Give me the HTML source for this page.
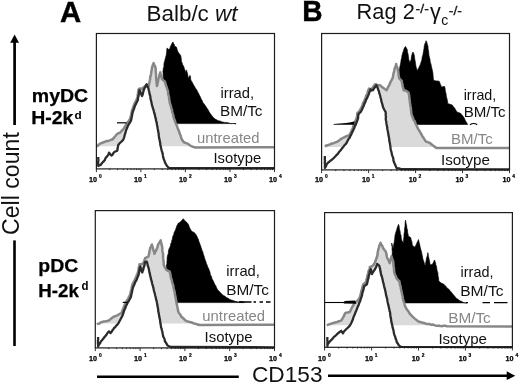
<!DOCTYPE html>
<html><head><meta charset="utf-8"><title>CD153 histograms</title>
<style>
html,body{margin:0;padding:0;background:#fff;}
body{width:520px;height:384px;overflow:hidden;}
svg{display:block;}
text{font-family:"Liberation Sans",Arial,Helvetica,sans-serif;fill:#111;}
.hd{font-weight:bold;font-size:29.2px;fill:#000;stroke:#000;stroke-width:0.4px;}
.ti{font-size:21.3px;}
.sup{font-size:13.3px;stroke:#111;stroke-width:0.3px;}
.sub{font-size:15px;}
.rl{font-weight:bold;font-size:17.6px;fill:#000;stroke:#000;stroke-width:0.25px;}
.rls{font-weight:bold;font-size:10.5px;fill:#000;}
.lb{font-size:14.8px;}
.lbg{font-size:14.8px;fill:#878787;}
.ax{font-size:22.6px;}
.tk{font-weight:bold;font-size:6.6px;fill:#000;stroke:#000;stroke-width:0.25px;}
.tke{font-weight:bold;font-size:4.9px;fill:#000;stroke:#000;stroke-width:0.2px;}
</style></head><body>
<svg width="520" height="384" viewBox="0 0 520 384">
<rect width="520" height="384" fill="#fff"/>
<rect x="96.4" y="33.5" width="178.1" height="135.4" fill="#fff"/>
<path d="M161.5,123.6 L161.5,123.3 L161.6,121.7 L161.6,120.6 L161.7,118.6 L161.7,116.7 L161.9,115.6 L161.8,113.5 L162.0,111.9 L161.8,110.9 L162.2,109.6 L162.1,107.7 L161.9,105.7 L162.0,104.5 L162.1,102.6 L162.3,100.8 L162.5,99.7 L162.4,98.2 L162.5,96.6 L162.5,95.0 L162.6,93.3 L163.0,92.2 L163.0,90.4 L163.0,88.2 L163.1,86.5 L163.4,85.4 L163.5,83.8 L163.7,81.8 L163.7,80.6 L163.3,77.9 L163.3,77.1 L163.1,75.5 L163.1,72.9 L162.9,71.6 L163.1,70.2 L163.4,67.8 L163.9,67.0 L163.9,64.4 L164.1,62.7 L164.6,61.4 L164.9,60.0 L165.4,58.1 L166.0,56.0 L166.3,54.6 L166.6,52.6 L166.7,50.9 L166.8,49.3 L167.1,47.9 L168.8,49.6 L169.8,48.4 L170.5,46.2 L171.5,44.6 L172.1,43.0 L173.0,41.9 L173.6,43.7 L174.3,44.4 L174.7,46.2 L176.4,47.0 L176.9,48.4 L177.5,50.7 L178.1,52.1 L179.2,53.6 L180.7,55.5 L181.0,57.1 L181.3,59.2 L181.5,61.4 L182.1,62.7 L182.7,64.8 L183.5,65.9 L184.0,67.3 L184.4,68.7 L185.3,71.1 L185.7,72.4 L186.6,69.9 L186.8,71.3 L187.5,73.5 L187.8,74.7 L188.0,77.1 L188.3,78.4 L189.0,76.8 L190.0,75.4 L190.5,76.5 L190.6,78.2 L190.8,80.0 L191.5,81.2 L192.4,82.4 L193.0,84.0 L194.6,86.5 L195.3,87.9 L196.2,89.2 L197.0,90.2 L197.7,91.9 L198.4,93.0 L199.3,95.0 L200.2,96.6 L200.8,98.1 L201.5,99.6 L202.3,100.8 L202.9,102.6 L203.8,103.5 L205.4,105.8 L206.9,108.1 L207.8,109.2 L208.8,111.2 L209.6,112.6 L210.8,114.2 L212.3,116.2 L213.8,118.1 L216.0,119.6 L218.5,120.8 L219.9,120.9 L221.5,121.7 L222.9,122.1 L224.6,122.4 L227.0,122.6 L229.0,123.0 L230.7,123.6 L232.2,123.5 L233.8,123.5 L236.0,123.9 L236.0,123.6Z" fill="#000" stroke="#000" stroke-width="0.6" stroke-linejoin="round"/>
<path d="M97.0,146.2 L97.0,146.8 L98.8,144.5 L100.2,143.7 L101.5,143.0 L103.0,142.5 L104.7,141.8 L106.6,141.0 L108.5,141.0 L110.5,140.0 L112.3,139.5 L113.4,138.4 L114.5,137.0 L115.6,135.8 L116.6,134.5 L118.3,133.3 L120.0,132.8 L121.3,131.3 L122.4,130.0 L123.4,129.2 L124.9,126.7 L126.3,124.3 L127.7,122.3 L129.0,120.7 L130.3,118.5 L130.8,116.1 L131.2,114.5 L131.6,112.4 L132.0,110.5 L132.5,109.1 L133.3,107.0 L134.0,105.0 L134.5,103.8 L135.0,102.4 L135.8,101.0 L137.1,98.6 L137.6,97.3 L137.7,94.9 L138.0,93.5 L138.2,91.7 L138.4,90.6 L138.8,89.0 L140.3,88.5 L142.0,89.0 L144.0,87.0 L146.0,85.5 L147.5,86.0 L148.5,86.8 L148.7,85.3 L149.3,83.1 L149.5,81.7 L149.9,80.2 L150.2,78.4 L150.3,76.6 L150.9,75.2 L151.1,73.7 L151.3,71.5 L151.7,70.1 L151.9,68.2 L152.4,66.2 L153.0,64.7 L153.6,63.1 L154.3,65.1 L155.0,66.1 L155.6,68.2 L155.7,69.8 L155.7,71.3 L155.9,73.2 L156.0,74.6 L156.1,76.4 L156.1,78.4 L156.2,79.5 L156.5,81.3 L156.6,82.6 L156.7,84.2 L156.9,86.0 L157.4,84.5 L157.7,82.9 L158.1,81.1 L158.1,79.8 L158.6,78.4 L159.2,77.1 L159.4,75.0 L159.8,74.1 L160.3,72.4 L160.5,73.9 L161.2,75.4 L161.8,77.9 L162.0,79.2 L163.1,80.2 L164.6,81.2 L165.2,82.6 L165.7,84.7 L166.2,86.0 L166.7,87.2 L167.2,88.9 L167.7,90.4 L168.1,91.7 L168.1,93.8 L168.5,95.0 L168.9,96.3 L169.1,97.9 L169.2,99.6 L169.6,101.1 L169.8,102.9 L170.3,104.2 L170.6,105.5 L171.2,107.4 L171.5,108.8 L172.0,110.0 L172.2,111.9 L172.7,113.5 L173.2,115.0 L173.5,116.6 L173.8,118.1 L174.6,120.0 L175.0,121.2 L175.6,122.9 L176.2,124.2 L176.9,125.7 L177.3,127.1 L177.9,128.8 L178.5,130.0 L179.0,131.3 L179.5,133.1 L180.0,134.3 L180.7,135.8 L181.2,138.1 L182.4,140.3 L183.6,142.0 L185.5,142.9 L187.5,143.6 L189.5,145.0 L191.4,146.2 L193.3,146.9 L195.3,147.5 L195.3,146.2Z" fill="#dadada"/>
<path d="M97.0,146.8 L98.8,144.5 L100.2,143.7 L101.5,143.0 L103.0,142.5 L104.7,141.8 L106.6,141.0 L108.5,141.0 L110.5,140.0 L112.3,139.5 L113.4,138.4 L114.5,137.0 L115.6,135.8 L116.6,134.5 L118.3,133.3 L120.0,132.8 L121.3,131.3 L122.4,130.0 L123.4,129.2 L124.9,126.7 L126.3,124.3 L127.7,122.3 L129.0,120.7 L130.3,118.5 L130.8,116.1 L131.2,114.5 L131.6,112.4 L132.0,110.5 L132.5,109.1 L133.3,107.0 L134.0,105.0 L134.5,103.8 L135.0,102.4 L135.8,101.0 L137.1,98.6 L137.6,97.3 L137.7,94.9 L138.0,93.5 L138.2,91.7 L138.4,90.6 L138.8,89.0 L140.3,88.5 L142.0,89.0 L144.0,87.0 L146.0,85.5 L147.5,86.0 L148.5,86.8 L148.7,85.3 L149.3,83.1 L149.5,81.7 L149.9,80.2 L150.2,78.4 L150.3,76.6 L150.9,75.2 L151.1,73.7 L151.3,71.5 L151.7,70.1 L151.9,68.2 L152.4,66.2 L153.0,64.7 L153.6,63.1 L154.3,65.1 L155.0,66.1 L155.6,68.2 L155.7,69.8 L155.7,71.3 L155.9,73.2 L156.0,74.6 L156.1,76.4 L156.1,78.4 L156.2,79.5 L156.5,81.3 L156.6,82.6 L156.7,84.2 L156.9,86.0 L157.4,84.5 L157.7,82.9 L158.1,81.1 L158.1,79.8 L158.6,78.4 L159.2,77.1 L159.4,75.0 L159.8,74.1 L160.3,72.4 L160.5,73.9 L161.2,75.4 L161.8,77.9 L162.0,79.2 L163.1,80.2 L164.6,81.2 L165.2,82.6 L165.7,84.7 L166.2,86.0 L166.7,87.2 L167.2,88.9 L167.7,90.4 L168.1,91.7 L168.1,93.8 L168.5,95.0 L168.9,96.3 L169.1,97.9 L169.2,99.6 L169.6,101.1 L169.8,102.9 L170.3,104.2 L170.6,105.5 L171.2,107.4 L171.5,108.8 L172.0,110.0 L172.2,111.9 L172.7,113.5 L173.2,115.0 L173.5,116.6 L173.8,118.1 L174.6,120.0 L175.0,121.2 L175.6,122.9 L176.2,124.2 L176.9,125.7 L177.3,127.1 L177.9,128.8 L178.5,130.0 L179.0,131.3 L179.5,133.1 L180.0,134.3 L180.7,135.8 L181.2,138.1 L182.4,140.3 L183.6,142.0 L185.5,142.9 L187.5,143.6 L189.5,145.0 L191.4,146.2 L193.3,146.9 L195.3,147.5 L274.5,147.3" fill="none" stroke="#878787" stroke-width="2.5" stroke-linejoin="round"/>
<path d="M98.2,168.2 L98.2,157.0 L98.3,158.3 L98.4,160.2 L98.2,161.2 L98.2,162.7 L98.2,164.7 L98.3,166.0 L100.6,165.0 L101.5,163.8 L102.6,162.4 L103.6,161.4 L104.7,160.2 L105.6,158.0 L106.9,156.6 L107.8,155.4 L108.5,154.3 L109.0,152.6 L110.3,154.3 L111.4,155.5 L112.5,154.7 L113.5,152.9 L114.3,152.0 L115.9,151.3 L117.3,150.6 L117.6,148.8 L117.9,146.7 L118.3,145.0 L119.5,143.3 L121.0,142.0 L122.3,140.9 L123.4,139.3 L124.1,137.6 L124.7,135.0 L125.4,132.9 L125.9,130.8 L126.6,129.0 L127.2,127.8 L127.7,126.3 L128.4,124.9 L129.7,122.8 L131.0,120.7 L131.5,118.3 L131.9,116.4 L132.3,114.1 L132.7,112.2 L133.3,110.6 L134.0,108.8 L134.6,106.8 L135.2,105.4 L136.5,102.8 L137.8,100.3 L138.0,98.3 L138.4,96.5 L138.7,95.0 L139.0,93.0 L139.2,92.2 L139.5,90.2 L140.3,91.8 L140.7,93.0 L141.2,94.1 L142.0,96.1 L142.6,94.8 L143.0,93.0 L143.7,90.2 L144.3,88.7 L145.2,87.0 L146.0,85.5 L146.6,84.2 L147.3,85.9 L147.7,87.0 L148.4,88.3 L148.8,90.2 L149.3,92.2 L149.7,94.5 L150.3,96.2 L150.5,98.6 L151.0,100.4 L151.3,101.7 L151.7,103.8 L152.0,105.4 L152.6,106.9 L152.9,108.6 L153.6,110.0 L154.0,112.0 L154.3,113.3 L154.9,114.8 L155.2,116.9 L155.6,118.0 L156.0,120.0 L156.2,121.4 L156.8,122.6 L156.8,124.2 L157.2,125.8 L157.5,127.5 L157.7,128.7 L158.1,130.5 L158.2,131.8 L158.7,133.8 L158.7,135.4 L159.0,137.0 L159.2,138.7 L159.6,139.6 L159.9,141.9 L160.2,142.8 L160.3,144.8 L160.7,146.1 L161.0,147.5 L161.3,149.0 L161.7,150.6 L162.2,152.2 L162.7,153.9 L163.0,156.0 L163.3,157.7 L163.9,159.5 L164.5,160.9 L165.0,162.5 L165.9,164.1 L167.0,166.0 L169.0,168.0 L169.0,168.2Z" fill="#fff"/>
<path d="M98.2,157.0 L98.3,158.3 L98.4,160.2 L98.2,161.2 L98.2,162.7 L98.2,164.7 L98.3,166.0 L100.6,165.0 L101.5,163.8 L102.6,162.4 L103.6,161.4 L104.7,160.2 L105.6,158.0 L106.9,156.6 L107.8,155.4 L108.5,154.3 L109.0,152.6 L110.3,154.3 L111.4,155.5 L112.5,154.7 L113.5,152.9 L114.3,152.0 L115.9,151.3 L117.3,150.6 L117.6,148.8 L117.9,146.7 L118.3,145.0 L119.5,143.3 L121.0,142.0 L122.3,140.9 L123.4,139.3 L124.1,137.6 L124.7,135.0 L125.4,132.9 L125.9,130.8 L126.6,129.0 L127.2,127.8 L127.7,126.3 L128.4,124.9 L129.7,122.8 L131.0,120.7 L131.5,118.3 L131.9,116.4 L132.3,114.1 L132.7,112.2 L133.3,110.6 L134.0,108.8 L134.6,106.8 L135.2,105.4 L136.5,102.8 L137.8,100.3 L138.0,98.3 L138.4,96.5 L138.7,95.0 L139.0,93.0 L139.2,92.2 L139.5,90.2 L140.3,91.8 L140.7,93.0 L141.2,94.1 L142.0,96.1 L142.6,94.8 L143.0,93.0 L143.7,90.2 L144.3,88.7 L145.2,87.0 L146.0,85.5 L146.6,84.2 L147.3,85.9 L147.7,87.0 L148.4,88.3 L148.8,90.2 L149.3,92.2 L149.7,94.5 L150.3,96.2 L150.5,98.6 L151.0,100.4 L151.3,101.7 L151.7,103.8 L152.0,105.4 L152.6,106.9 L152.9,108.6 L153.6,110.0 L154.0,112.0 L154.3,113.3 L154.9,114.8 L155.2,116.9 L155.6,118.0 L156.0,120.0 L156.2,121.4 L156.8,122.6 L156.8,124.2 L157.2,125.8 L157.5,127.5 L157.7,128.7 L158.1,130.5 L158.2,131.8 L158.7,133.8 L158.7,135.4 L159.0,137.0 L159.2,138.7 L159.6,139.6 L159.9,141.9 L160.2,142.8 L160.3,144.8 L160.7,146.1 L161.0,147.5 L161.3,149.0 L161.7,150.6 L162.2,152.2 L162.7,153.9 L163.0,156.0 L163.3,157.7 L163.9,159.5 L164.5,160.9 L165.0,162.5 L165.9,164.1 L167.0,166.0 L169.0,168.0 L274.5,168.2" fill="none" stroke="#2b2b2b" stroke-width="2.3" stroke-linejoin="round"/>
<path d="M117,122.8 H126.5" stroke="#000" stroke-width="1.2"/>
<rect x="96.4" y="33.5" width="178.1" height="135.4" fill="none" stroke="#1c1c1c" stroke-width="1.2"/>
<path d="M96.4,168.9 v3.2 M109.8,168.9 v1.2 M117.6,168.9 v1.2 M123.2,168.9 v1.2 M127.5,168.9 v1.2 M131.0,168.9 v1.2 M134.0,168.9 v1.2 M136.6,168.9 v1.2 M138.9,168.9 v1.2 M140.9,168.9 v3.2 M154.3,168.9 v1.2 M162.2,168.9 v1.2 M167.7,168.9 v1.2 M172.0,168.9 v1.2 M175.6,168.9 v1.2 M178.6,168.9 v1.2 M181.1,168.9 v1.2 M183.4,168.9 v1.2 M185.4,168.9 v3.2 M198.9,168.9 v1.2 M206.7,168.9 v1.2 M212.3,168.9 v1.2 M216.6,168.9 v1.2 M220.1,168.9 v1.2 M223.1,168.9 v1.2 M225.7,168.9 v1.2 M227.9,168.9 v1.2 M230.0,168.9 v3.2 M243.4,168.9 v1.2 M251.2,168.9 v1.2 M256.8,168.9 v1.2 M261.1,168.9 v1.2 M264.6,168.9 v1.2 M267.6,168.9 v1.2 M270.2,168.9 v1.2 M272.5,168.9 v1.2 M274.5,168.9 v3.2" stroke="#1c1c1c" stroke-width="0.9" fill="none"/>
<text x="89.0" y="181.9" class="tk" textLength="8.0" lengthAdjust="spacingAndGlyphs">10</text>
<text x="98.9" y="178.2" class="tke">0</text>
<text x="134.0" y="181.9" class="tk" textLength="8.0" lengthAdjust="spacingAndGlyphs">10</text>
<text x="143.9" y="178.2" class="tke">1</text>
<text x="179.0" y="181.9" class="tk" textLength="8.0" lengthAdjust="spacingAndGlyphs">10</text>
<text x="188.9" y="178.2" class="tke">2</text>
<text x="224.0" y="181.9" class="tk" textLength="8.0" lengthAdjust="spacingAndGlyphs">10</text>
<text x="233.9" y="178.2" class="tke">3</text>
<text x="269.0" y="181.9" class="tk" textLength="8.0" lengthAdjust="spacingAndGlyphs">10</text>
<text x="278.9" y="178.2" class="tke">4</text>
<rect x="95.3" y="210.6" width="179.2" height="137.3" fill="#fff"/>
<path d="M165.5,302.6 L165.5,302.3 L165.6,300.4 L165.5,299.2 L165.7,297.2 L165.6,296.2 L165.5,294.3 L165.6,292.2 L165.5,291.2 L165.6,289.9 L165.5,287.7 L165.8,286.9 L165.8,285.2 L165.7,282.7 L165.6,281.6 L165.8,280.0 L165.8,278.8 L166.1,276.3 L166.2,274.6 L166.1,273.2 L166.2,271.4 L166.0,269.6 L166.3,268.2 L166.3,266.9 L166.5,265.1 L166.9,263.6 L166.9,261.7 L167.1,259.9 L167.1,258.1 L167.4,256.0 L167.7,255.0 L168.3,253.4 L168.4,251.2 L168.8,249.6 L169.3,248.2 L169.9,247.3 L170.5,245.4 L170.8,243.4 L171.5,242.5 L171.7,240.7 L172.3,239.2 L172.6,237.3 L173.0,236.0 L173.7,234.4 L174.2,232.3 L175.1,230.8 L175.6,229.3 L176.3,227.6 L176.7,226.1 L177.6,224.4 L178.1,223.3 L179.3,222.7 L180.7,221.6 L182.0,220.3 L183.2,218.7 L184.7,220.5 L185.8,221.6 L187.2,222.8 L188.3,224.2 L189.0,226.1 L189.5,227.5 L190.1,228.5 L190.8,230.1 L192.4,231.7 L194.2,232.6 L195.6,233.9 L196.8,236.0 L197.7,238.2 L198.6,239.8 L198.9,241.6 L199.5,242.5 L199.9,244.2 L200.5,245.3 L201.0,247.2 L201.7,249.1 L202.0,250.4 L202.7,251.4 L203.1,253.1 L203.5,254.6 L203.9,255.6 L204.6,257.9 L205.0,259.4 L205.5,260.4 L206.0,262.0 L206.5,263.9 L207.2,265.1 L207.7,266.9 L208.5,268.2 L209.2,269.9 L209.5,270.7 L210.1,272.8 L210.3,274.2 L210.9,275.6 L211.7,277.0 L212.0,278.9 L212.8,280.0 L213.3,281.0 L214.0,282.4 L214.7,284.3 L215.7,285.5 L216.5,287.5 L217.3,289.2 L218.4,290.5 L219.5,291.8 L220.8,293.0 L221.9,294.2 L223.3,295.4 L224.7,296.1 L226.4,297.4 L228.0,298.2 L229.5,299.2 L231.1,299.9 L233.0,300.5 L235.1,301.3 L236.9,301.6 L238.5,302.0 L239.9,301.4 L241.5,301.6 L243.0,301.8 L244.4,302.3 L244.4,302.6Z" fill="#000" stroke="#000" stroke-width="0.6" stroke-linejoin="round"/>
<path d="M97.0,323.6 L97.0,324.6 L98.0,323.8 L99.3,323.6 L101.0,322.2 L102.2,322.1 L103.7,321.4 L105.5,321.3 L107.2,321.0 L109.0,320.4 L111.0,318.7 L113.2,317.0 L115.3,316.1 L117.4,315.3 L119.5,314.0 L121.7,312.8 L122.6,310.0 L123.3,308.4 L124.2,306.0 L125.3,303.5 L126.0,302.4 L126.8,300.5 L127.8,299.2 L128.6,297.8 L129.3,296.2 L130.3,294.2 L130.6,292.3 L131.2,290.0 L131.6,288.3 L132.0,286.0 L132.7,283.9 L133.6,282.2 L134.5,280.6 L135.3,278.4 L136.0,277.3 L136.6,275.5 L137.3,274.4 L137.9,272.5 L138.2,271.2 L138.6,269.3 L138.7,268.0 L139.2,266.0 L139.5,264.3 L141.0,264.5 L143.4,263.1 L144.0,261.8 L144.7,259.4 L145.1,258.1 L146.7,257.4 L148.5,256.4 L148.9,254.3 L149.3,252.6 L149.5,251.3 L149.9,249.5 L150.2,247.9 L151.0,246.6 L151.9,244.5 L152.3,245.9 L152.8,247.4 L153.1,249.2 L153.6,250.9 L154.2,251.9 L154.4,253.8 L155.2,252.0 L156.1,250.4 L156.9,248.6 L157.4,247.5 L157.8,245.3 L158.6,243.7 L159.5,242.4 L160.7,240.3 L161.0,241.8 L161.3,243.1 L161.5,244.4 L162.0,246.2 L162.3,247.9 L162.3,249.7 L162.5,251.5 L162.9,253.0 L163.1,254.6 L163.1,256.8 L163.2,258.4 L163.4,259.8 L163.6,261.9 L163.7,263.1 L163.7,264.8 L164.5,266.6 L165.5,268.5 L166.3,269.9 L168.2,270.8 L169.7,271.6 L170.1,272.9 L170.5,275.0 L170.8,277.1 L171.3,279.0 L171.8,280.3 L172.2,282.2 L172.6,283.8 L173.2,285.2 L173.5,287.3 L173.8,288.8 L174.2,290.4 L174.7,292.3 L174.9,294.3 L175.2,295.5 L175.6,297.4 L175.8,299.1 L176.2,300.7 L176.4,302.5 L177.0,305.0 L177.3,306.8 L177.7,308.5 L178.1,311.0 L178.8,312.8 L179.8,314.0 L180.6,315.2 L181.5,316.9 L182.8,317.8 L184.0,319.0 L185.3,320.3 L186.6,321.2 L188.0,321.4 L189.5,322.0 L190.8,322.2 L192.5,322.8 L194.1,323.5 L196.0,323.9 L198.1,324.8 L200.0,324.9 L200.0,323.6Z" fill="#dadada"/>
<path d="M97.0,324.6 L98.0,323.8 L99.3,323.6 L101.0,322.2 L102.2,322.1 L103.7,321.4 L105.5,321.3 L107.2,321.0 L109.0,320.4 L111.0,318.7 L113.2,317.0 L115.3,316.1 L117.4,315.3 L119.5,314.0 L121.7,312.8 L122.6,310.0 L123.3,308.4 L124.2,306.0 L125.3,303.5 L126.0,302.4 L126.8,300.5 L127.8,299.2 L128.6,297.8 L129.3,296.2 L130.3,294.2 L130.6,292.3 L131.2,290.0 L131.6,288.3 L132.0,286.0 L132.7,283.9 L133.6,282.2 L134.5,280.6 L135.3,278.4 L136.0,277.3 L136.6,275.5 L137.3,274.4 L137.9,272.5 L138.2,271.2 L138.6,269.3 L138.7,268.0 L139.2,266.0 L139.5,264.3 L141.0,264.5 L143.4,263.1 L144.0,261.8 L144.7,259.4 L145.1,258.1 L146.7,257.4 L148.5,256.4 L148.9,254.3 L149.3,252.6 L149.5,251.3 L149.9,249.5 L150.2,247.9 L151.0,246.6 L151.9,244.5 L152.3,245.9 L152.8,247.4 L153.1,249.2 L153.6,250.9 L154.2,251.9 L154.4,253.8 L155.2,252.0 L156.1,250.4 L156.9,248.6 L157.4,247.5 L157.8,245.3 L158.6,243.7 L159.5,242.4 L160.7,240.3 L161.0,241.8 L161.3,243.1 L161.5,244.4 L162.0,246.2 L162.3,247.9 L162.3,249.7 L162.5,251.5 L162.9,253.0 L163.1,254.6 L163.1,256.8 L163.2,258.4 L163.4,259.8 L163.6,261.9 L163.7,263.1 L163.7,264.8 L164.5,266.6 L165.5,268.5 L166.3,269.9 L168.2,270.8 L169.7,271.6 L170.1,272.9 L170.5,275.0 L170.8,277.1 L171.3,279.0 L171.8,280.3 L172.2,282.2 L172.6,283.8 L173.2,285.2 L173.5,287.3 L173.8,288.8 L174.2,290.4 L174.7,292.3 L174.9,294.3 L175.2,295.5 L175.6,297.4 L175.8,299.1 L176.2,300.7 L176.4,302.5 L177.0,305.0 L177.3,306.8 L177.7,308.5 L178.1,311.0 L178.8,312.8 L179.8,314.0 L180.6,315.2 L181.5,316.9 L182.8,317.8 L184.0,319.0 L185.3,320.3 L186.6,321.2 L188.0,321.4 L189.5,322.0 L190.8,322.2 L192.5,322.8 L194.1,323.5 L196.0,323.9 L198.1,324.8 L200.0,324.9 L274.5,324.7" fill="none" stroke="#878787" stroke-width="2.5" stroke-linejoin="round"/>
<path d="M98.0,347.3 L98.0,337.0 L98.2,339.0 L97.9,340.5 L98.0,341.8 L97.9,343.4 L98.1,344.6 L98.1,346.5 L99.0,344.6 L100.0,343.3 L101.0,341.2 L102.2,340.0 L103.2,338.8 L104.3,337.3 L105.4,336.1 L106.4,334.8 L107.5,333.0 L109.0,331.4 L110.6,333.1 L111.5,332.1 L112.3,330.5 L113.2,329.4 L114.0,328.0 L115.1,327.3 L116.2,325.7 L117.2,324.8 L118.3,323.5 L119.6,321.0 L120.8,318.7 L121.7,317.2 L122.5,315.6 L123.4,312.8 L124.1,310.6 L125.0,308.8 L126.0,306.0 L126.8,304.5 L127.5,303.0 L128.3,301.6 L129.1,300.3 L130.0,298.7 L131.0,296.7 L131.4,294.3 L131.9,292.5 L132.2,290.8 L132.7,288.5 L133.4,286.3 L134.3,284.7 L135.1,282.4 L136.0,280.9 L136.8,279.5 L137.3,278.0 L137.9,276.3 L138.6,275.0 L138.8,273.3 L139.2,272.2 L139.4,270.5 L139.7,268.3 L140.3,266.5 L140.9,268.5 L141.3,270.0 L142.3,272.5 L142.6,271.3 L143.3,269.5 L143.5,268.0 L144.1,266.5 L144.6,264.6 L144.8,263.0 L145.3,261.8 L146.6,261.5 L147.3,263.1 L147.7,265.5 L148.4,267.4 L148.8,269.0 L149.2,270.8 L149.3,272.0 L149.9,273.7 L150.1,275.6 L150.6,277.0 L151.0,279.2 L151.3,280.2 L151.9,282.2 L152.2,283.8 L152.9,285.9 L153.2,287.2 L153.5,288.6 L153.9,290.6 L154.4,292.3 L154.9,294.0 L155.2,295.5 L155.7,297.4 L156.1,299.5 L156.6,300.7 L156.9,302.5 L157.3,304.5 L157.5,306.1 L157.8,307.6 L158.2,309.5 L158.2,311.1 L158.6,312.7 L158.9,314.2 L159.2,316.3 L159.5,317.7 L159.9,319.4 L160.1,320.7 L160.3,322.8 L160.6,324.1 L160.9,326.1 L161.1,327.6 L161.6,328.7 L161.9,330.3 L162.3,331.5 L162.6,333.2 L162.9,334.7 L163.2,336.6 L164.1,338.0 L164.6,339.5 L165.0,341.5 L165.9,342.6 L166.6,343.9 L167.5,345.5 L169.1,346.2 L171.0,347.0 L171.0,347.3Z" fill="#fff"/>
<path d="M98.0,337.0 L98.2,339.0 L97.9,340.5 L98.0,341.8 L97.9,343.4 L98.1,344.6 L98.1,346.5 L99.0,344.6 L100.0,343.3 L101.0,341.2 L102.2,340.0 L103.2,338.8 L104.3,337.3 L105.4,336.1 L106.4,334.8 L107.5,333.0 L109.0,331.4 L110.6,333.1 L111.5,332.1 L112.3,330.5 L113.2,329.4 L114.0,328.0 L115.1,327.3 L116.2,325.7 L117.2,324.8 L118.3,323.5 L119.6,321.0 L120.8,318.7 L121.7,317.2 L122.5,315.6 L123.4,312.8 L124.1,310.6 L125.0,308.8 L126.0,306.0 L126.8,304.5 L127.5,303.0 L128.3,301.6 L129.1,300.3 L130.0,298.7 L131.0,296.7 L131.4,294.3 L131.9,292.5 L132.2,290.8 L132.7,288.5 L133.4,286.3 L134.3,284.7 L135.1,282.4 L136.0,280.9 L136.8,279.5 L137.3,278.0 L137.9,276.3 L138.6,275.0 L138.8,273.3 L139.2,272.2 L139.4,270.5 L139.7,268.3 L140.3,266.5 L140.9,268.5 L141.3,270.0 L142.3,272.5 L142.6,271.3 L143.3,269.5 L143.5,268.0 L144.1,266.5 L144.6,264.6 L144.8,263.0 L145.3,261.8 L146.6,261.5 L147.3,263.1 L147.7,265.5 L148.4,267.4 L148.8,269.0 L149.2,270.8 L149.3,272.0 L149.9,273.7 L150.1,275.6 L150.6,277.0 L151.0,279.2 L151.3,280.2 L151.9,282.2 L152.2,283.8 L152.9,285.9 L153.2,287.2 L153.5,288.6 L153.9,290.6 L154.4,292.3 L154.9,294.0 L155.2,295.5 L155.7,297.4 L156.1,299.5 L156.6,300.7 L156.9,302.5 L157.3,304.5 L157.5,306.1 L157.8,307.6 L158.2,309.5 L158.2,311.1 L158.6,312.7 L158.9,314.2 L159.2,316.3 L159.5,317.7 L159.9,319.4 L160.1,320.7 L160.3,322.8 L160.6,324.1 L160.9,326.1 L161.1,327.6 L161.6,328.7 L161.9,330.3 L162.3,331.5 L162.6,333.2 L162.9,334.7 L163.2,336.6 L164.1,338.0 L164.6,339.5 L165.0,341.5 L165.9,342.6 L166.6,343.9 L167.5,345.5 L169.1,346.2 L171.0,347.0 L274.5,347.3" fill="none" stroke="#2b2b2b" stroke-width="2.3" stroke-linejoin="round"/>
<path d="M122.8,302.4 H127.5" stroke="#000" stroke-width="1.2"/><path d="M239,302 H251.5 M253.5,302 h2.5 M259.5,302 h3.5 M266,302 h4.5" stroke="#000" stroke-width="1.3"/>
<rect x="95.3" y="210.6" width="179.2" height="137.3" fill="none" stroke="#1c1c1c" stroke-width="1.2"/>
<path d="M95.3,347.9 v3.2 M108.8,347.9 v1.2 M116.7,347.9 v1.2 M122.3,347.9 v1.2 M126.6,347.9 v1.2 M130.2,347.9 v1.2 M133.2,347.9 v1.2 M135.8,347.9 v1.2 M138.1,347.9 v1.2 M140.1,347.9 v3.2 M153.6,347.9 v1.2 M161.5,347.9 v1.2 M167.1,347.9 v1.2 M171.4,347.9 v1.2 M175.0,347.9 v1.2 M178.0,347.9 v1.2 M180.6,347.9 v1.2 M182.9,347.9 v1.2 M184.9,347.9 v3.2 M198.4,347.9 v1.2 M206.3,347.9 v1.2 M211.9,347.9 v1.2 M216.2,347.9 v1.2 M219.8,347.9 v1.2 M222.8,347.9 v1.2 M225.4,347.9 v1.2 M227.7,347.9 v1.2 M229.7,347.9 v3.2 M243.2,347.9 v1.2 M251.1,347.9 v1.2 M256.7,347.9 v1.2 M261.0,347.9 v1.2 M264.6,347.9 v1.2 M267.6,347.9 v1.2 M270.2,347.9 v1.2 M272.5,347.9 v1.2 M274.5,347.9 v3.2" stroke="#1c1c1c" stroke-width="0.9" fill="none"/>
<text x="89.0" y="360.6" class="tk" textLength="8.0" lengthAdjust="spacingAndGlyphs">10</text>
<text x="98.9" y="356.9" class="tke">0</text>
<text x="134.0" y="360.6" class="tk" textLength="8.0" lengthAdjust="spacingAndGlyphs">10</text>
<text x="143.9" y="356.9" class="tke">1</text>
<text x="179.0" y="360.6" class="tk" textLength="8.0" lengthAdjust="spacingAndGlyphs">10</text>
<text x="188.9" y="356.9" class="tke">2</text>
<text x="224.0" y="360.6" class="tk" textLength="8.0" lengthAdjust="spacingAndGlyphs">10</text>
<text x="233.9" y="356.9" class="tke">3</text>
<text x="269.0" y="360.6" class="tk" textLength="8.0" lengthAdjust="spacingAndGlyphs">10</text>
<text x="278.9" y="356.9" class="tke">4</text>
<rect x="321.6" y="33.5" width="187.9" height="136.4" fill="#fff"/>
<path d="M397.5,124.5 L397.5,124.3 L397.4,122.3 L397.6,121.1 L397.4,119.3 L397.7,117.8 L397.7,116.2 L397.5,115.1 L397.6,113.4 L397.9,111.7 L397.5,109.9 L397.7,109.1 L397.7,106.8 L398.0,105.5 L397.7,103.7 L397.8,102.6 L398.0,101.4 L397.7,99.2 L398.1,98.1 L398.0,95.8 L398.0,95.0 L398.1,92.8 L397.9,91.8 L398.0,90.0 L398.0,88.6 L398.1,86.4 L398.2,85.2 L398.5,84.0 L398.7,82.7 L398.7,81.2 L398.5,79.0 L398.8,77.8 L398.7,76.3 L399.1,74.2 L399.1,73.1 L399.1,71.0 L399.2,69.9 L399.6,68.6 L399.8,67.0 L400.3,64.8 L400.7,63.0 L400.9,61.4 L401.1,59.8 L401.8,57.6 L401.8,56.0 L402.3,54.5 L402.6,53.0 L403.2,51.7 L403.8,49.6 L404.3,47.9 L405.5,46.5 L406.3,47.8 L407.2,49.6 L407.5,51.4 L407.6,52.5 L408.1,54.3 L408.5,56.5 L408.6,58.0 L408.9,60.0 L409.7,61.7 L409.9,63.1 L410.3,61.2 L411.1,59.7 L411.3,57.9 L411.5,56.0 L412.1,54.3 L412.3,53.0 L413.1,52.1 L413.8,53.7 L414.5,56.3 L414.6,57.7 L414.9,60.0 L415.2,61.1 L415.5,63.3 L415.7,64.8 L416.0,66.6 L416.4,67.8 L416.8,69.2 L417.0,70.7 L417.7,69.4 L418.7,68.2 L419.5,66.1 L420.2,65.0 L420.7,63.3 L421.3,61.4 L421.9,59.4 L422.1,57.6 L422.5,55.9 L423.0,54.6 L423.2,52.7 L423.5,51.5 L423.8,49.3 L424.1,48.1 L424.2,46.2 L424.8,43.9 L425.3,42.9 L426.0,40.7 L426.8,42.2 L427.3,44.2 L428.0,46.2 L428.1,48.2 L428.2,49.3 L428.6,51.1 L428.8,52.8 L428.9,54.6 L429.1,55.9 L429.6,58.1 L430.1,59.7 L430.1,61.2 L430.6,63.1 L431.0,64.3 L431.4,66.3 L431.7,67.7 L432.3,69.9 L432.6,71.5 L432.9,73.1 L433.0,75.0 L433.2,76.9 L433.4,78.9 L433.8,80.4 L436.5,80.9 L439.2,81.2 L439.9,82.8 L440.3,84.3 L441.0,85.4 L441.5,87.3 L443.0,86.6 L444.6,86.5 L445.1,88.2 L445.2,90.1 L445.5,92.0 L446.0,93.2 L446.2,95.0 L446.4,96.8 L446.9,98.3 L447.2,99.8 L447.6,101.3 L447.7,103.5 L450.0,104.3 L452.3,105.0 L453.4,106.7 L454.6,108.0 L455.5,109.8 L456.0,110.2 L456.9,112.0 L459.0,112.7 L460.8,113.5 L461.6,114.4 L462.6,115.8 L463.8,117.3 L464.6,118.8 L465.3,120.4 L466.2,122.0 L467.7,124.5 L467.7,124.5Z" fill="#000" stroke="#000" stroke-width="0.6" stroke-linejoin="round"/>
<path d="M324.7,147.0 L324.7,146.3 L327.5,145.3 L330.2,144.4 L331.8,143.4 L333.6,143.2 L335.4,142.4 L337.0,141.9 L338.3,141.0 L339.5,140.2 L340.8,139.0 L342.0,138.5 L344.5,137.2 L347.1,136.0 L349.0,135.5 L350.3,133.5 L351.0,132.1 L351.7,130.1 L352.5,129.1 L353.0,127.2 L353.5,125.6 L354.3,124.2 L354.8,122.7 L355.6,120.8 L356.3,118.7 L356.8,117.4 L357.2,115.6 L357.3,113.1 L359.4,111.2 L360.7,108.9 L361.4,107.5 L362.4,105.2 L363.1,102.9 L364.0,101.3 L364.7,99.8 L365.7,97.4 L366.4,95.2 L367.4,93.6 L367.8,91.5 L368.4,90.1 L369.1,88.6 L370.4,89.0 L371.7,89.0 L372.7,87.6 L373.4,86.5 L375.1,84.3 L376.5,84.5 L378.0,85.5 L379.7,85.1 L381.4,86.4 L383.1,87.7 L384.8,89.0 L386.5,90.2 L387.5,88.2 L388.2,86.8 L389.1,85.3 L389.9,83.4 L391.2,80.8 L392.5,78.3 L393.0,76.5 L393.3,74.5 L393.7,72.7 L394.2,70.7 L394.6,68.8 L395.2,67.3 L395.9,65.5 L396.2,63.9 L396.4,65.4 L397.0,67.0 L397.6,68.4 L397.9,69.9 L398.3,71.9 L398.5,74.0 L398.7,75.8 L399.2,78.3 L400.5,79.6 L401.8,80.9 L401.9,82.6 L402.3,83.8 L402.6,85.5 L402.7,86.8 L403.4,88.2 L403.5,90.2 L405.4,90.4 L407.0,91.5 L408.5,92.5 L408.9,94.3 L409.2,95.8 L409.3,97.5 L409.6,99.6 L409.8,101.0 L410.0,102.7 L410.2,104.1 L410.4,106.1 L410.8,107.5 L411.0,109.8 L411.2,111.5 L411.3,113.4 L411.8,115.2 L412.5,116.8 L413.0,118.3 L413.8,120.2 L414.8,121.4 L415.5,123.5 L416.5,125.3 L417.2,126.9 L418.2,129.1 L419.3,130.7 L420.6,133.0 L421.5,134.5 L422.4,136.2 L423.6,137.9 L424.5,139.4 L425.7,141.3 L427.8,142.2 L429.9,143.0 L432.0,144.7 L434.1,146.4 L435.2,147.1 L436.7,148.1 L436.7,147.0Z" fill="#dadada"/>
<path d="M324.7,146.3 L327.5,145.3 L330.2,144.4 L331.8,143.4 L333.6,143.2 L335.4,142.4 L337.0,141.9 L338.3,141.0 L339.5,140.2 L340.8,139.0 L342.0,138.5 L344.5,137.2 L347.1,136.0 L349.0,135.5 L350.3,133.5 L351.0,132.1 L351.7,130.1 L352.5,129.1 L353.0,127.2 L353.5,125.6 L354.3,124.2 L354.8,122.7 L355.6,120.8 L356.3,118.7 L356.8,117.4 L357.2,115.6 L357.3,113.1 L359.4,111.2 L360.7,108.9 L361.4,107.5 L362.4,105.2 L363.1,102.9 L364.0,101.3 L364.7,99.8 L365.7,97.4 L366.4,95.2 L367.4,93.6 L367.8,91.5 L368.4,90.1 L369.1,88.6 L370.4,89.0 L371.7,89.0 L372.7,87.6 L373.4,86.5 L375.1,84.3 L376.5,84.5 L378.0,85.5 L379.7,85.1 L381.4,86.4 L383.1,87.7 L384.8,89.0 L386.5,90.2 L387.5,88.2 L388.2,86.8 L389.1,85.3 L389.9,83.4 L391.2,80.8 L392.5,78.3 L393.0,76.5 L393.3,74.5 L393.7,72.7 L394.2,70.7 L394.6,68.8 L395.2,67.3 L395.9,65.5 L396.2,63.9 L396.4,65.4 L397.0,67.0 L397.6,68.4 L397.9,69.9 L398.3,71.9 L398.5,74.0 L398.7,75.8 L399.2,78.3 L400.5,79.6 L401.8,80.9 L401.9,82.6 L402.3,83.8 L402.6,85.5 L402.7,86.8 L403.4,88.2 L403.5,90.2 L405.4,90.4 L407.0,91.5 L408.5,92.5 L408.9,94.3 L409.2,95.8 L409.3,97.5 L409.6,99.6 L409.8,101.0 L410.0,102.7 L410.2,104.1 L410.4,106.1 L410.8,107.5 L411.0,109.8 L411.2,111.5 L411.3,113.4 L411.8,115.2 L412.5,116.8 L413.0,118.3 L413.8,120.2 L414.8,121.4 L415.5,123.5 L416.5,125.3 L417.2,126.9 L418.2,129.1 L419.3,130.7 L420.6,133.0 L421.5,134.5 L422.4,136.2 L423.6,137.9 L424.5,139.4 L425.7,141.3 L427.8,142.2 L429.9,143.0 L432.0,144.7 L434.1,146.4 L435.2,147.1 L436.7,148.1 L509.5,148.1" fill="none" stroke="#878787" stroke-width="2.5" stroke-linejoin="round"/>
<path d="M324.8,169.4 L324.8,156.0 L324.9,157.6 L324.7,159.3 L325.0,160.6 L324.7,162.4 L324.9,163.6 L325.0,165.0 L324.9,166.5 L324.9,168.0 L325.9,166.4 L326.8,164.0 L328.0,162.7 L329.3,161.8 L330.4,160.7 L331.9,159.7 L333.3,158.5 L334.5,157.2 L335.9,155.8 L337.0,154.6 L338.0,153.7 L339.0,152.0 L340.0,150.9 L341.2,149.5 L342.4,147.9 L343.3,147.0 L344.2,145.5 L345.4,144.4 L346.5,143.1 L347.5,141.0 L348.5,139.0 L349.7,137.7 L350.4,135.8 L351.3,134.3 L352.2,132.2 L353.0,130.9 L353.6,129.3 L354.3,128.0 L354.8,126.2 L355.6,125.0 L356.4,122.9 L356.9,121.6 L357.5,120.1 L358.1,118.2 L358.2,115.7 L358.6,113.9 L360.7,112.0 L362.0,109.7 L362.8,107.5 L363.7,106.0 L364.4,103.7 L365.3,102.1 L366.0,99.9 L367.0,98.2 L367.8,96.4 L368.7,94.4 L369.2,92.7 L369.9,91.1 L370.4,89.4 L371.7,90.5 L373.0,90.2 L373.7,88.7 L374.7,87.5 L376.4,85.1 L377.0,86.5 L377.7,88.0 L378.2,89.8 L378.9,91.0 L379.2,93.0 L379.8,94.4 L380.2,96.1 L380.6,97.8 L381.1,99.2 L381.3,101.1 L381.8,102.5 L382.3,104.1 L382.5,105.2 L383.1,107.2 L383.8,108.7 L384.4,110.0 L385.7,112.2 L385.7,113.8 L385.7,115.4 L386.0,117.3 L385.7,118.6 L385.9,120.2 L386.3,121.8 L386.4,123.4 L386.8,125.3 L387.1,126.7 L387.3,128.7 L387.6,130.3 L388.0,132.1 L388.3,134.1 L388.5,135.4 L388.9,137.0 L389.2,139.2 L389.3,140.5 L389.6,142.4 L390.0,143.8 L390.2,145.5 L390.5,147.3 L390.6,148.7 L391.0,150.6 L391.5,152.1 L391.8,154.1 L392.3,155.7 L392.9,157.1 L393.3,158.7 L393.5,160.8 L394.4,163.0 L395.2,164.8 L396.1,167.0 L396.9,168.4 L399.2,168.4 L401.2,169.2 L401.2,169.4Z" fill="#fff"/>
<path d="M324.8,156.0 L324.9,157.6 L324.7,159.3 L325.0,160.6 L324.7,162.4 L324.9,163.6 L325.0,165.0 L324.9,166.5 L324.9,168.0 L325.9,166.4 L326.8,164.0 L328.0,162.7 L329.3,161.8 L330.4,160.7 L331.9,159.7 L333.3,158.5 L334.5,157.2 L335.9,155.8 L337.0,154.6 L338.0,153.7 L339.0,152.0 L340.0,150.9 L341.2,149.5 L342.4,147.9 L343.3,147.0 L344.2,145.5 L345.4,144.4 L346.5,143.1 L347.5,141.0 L348.5,139.0 L349.7,137.7 L350.4,135.8 L351.3,134.3 L352.2,132.2 L353.0,130.9 L353.6,129.3 L354.3,128.0 L354.8,126.2 L355.6,125.0 L356.4,122.9 L356.9,121.6 L357.5,120.1 L358.1,118.2 L358.2,115.7 L358.6,113.9 L360.7,112.0 L362.0,109.7 L362.8,107.5 L363.7,106.0 L364.4,103.7 L365.3,102.1 L366.0,99.9 L367.0,98.2 L367.8,96.4 L368.7,94.4 L369.2,92.7 L369.9,91.1 L370.4,89.4 L371.7,90.5 L373.0,90.2 L373.7,88.7 L374.7,87.5 L376.4,85.1 L377.0,86.5 L377.7,88.0 L378.2,89.8 L378.9,91.0 L379.2,93.0 L379.8,94.4 L380.2,96.1 L380.6,97.8 L381.1,99.2 L381.3,101.1 L381.8,102.5 L382.3,104.1 L382.5,105.2 L383.1,107.2 L383.8,108.7 L384.4,110.0 L385.7,112.2 L385.7,113.8 L385.7,115.4 L386.0,117.3 L385.7,118.6 L385.9,120.2 L386.3,121.8 L386.4,123.4 L386.8,125.3 L387.1,126.7 L387.3,128.7 L387.6,130.3 L388.0,132.1 L388.3,134.1 L388.5,135.4 L388.9,137.0 L389.2,139.2 L389.3,140.5 L389.6,142.4 L390.0,143.8 L390.2,145.5 L390.5,147.3 L390.6,148.7 L391.0,150.6 L391.5,152.1 L391.8,154.1 L392.3,155.7 L392.9,157.1 L393.3,158.7 L393.5,160.8 L394.4,163.0 L395.2,164.8 L396.1,167.0 L396.9,168.4 L399.2,168.4 L401.2,169.2 L509.5,169.4" fill="none" stroke="#2b2b2b" stroke-width="2.3" stroke-linejoin="round"/>
<path d="M333.6,124.8 L333.6,123.9 L340,123.6 L346,123 L351,122.2 L354.5,121.3 L354.3,124.8 Z" fill="#000"/><path d="M470,124.7 q3.6,-2.4 7.2,0" fill="none" stroke="#000" stroke-width="1.1"/>
<rect x="321.6" y="33.5" width="187.9" height="136.4" fill="none" stroke="#1c1c1c" stroke-width="1.2"/>
<path d="M321.6,169.9 v3.2 M335.7,169.9 v1.2 M344.0,169.9 v1.2 M349.9,169.9 v1.2 M354.4,169.9 v1.2 M358.2,169.9 v1.2 M361.3,169.9 v1.2 M364.0,169.9 v1.2 M366.4,169.9 v1.2 M368.6,169.9 v3.2 M382.7,169.9 v1.2 M391.0,169.9 v1.2 M396.9,169.9 v1.2 M401.4,169.9 v1.2 M405.1,169.9 v1.2 M408.3,169.9 v1.2 M411.0,169.9 v1.2 M413.4,169.9 v1.2 M415.6,169.9 v3.2 M429.7,169.9 v1.2 M438.0,169.9 v1.2 M443.8,169.9 v1.2 M448.4,169.9 v1.2 M452.1,169.9 v1.2 M455.2,169.9 v1.2 M458.0,169.9 v1.2 M460.4,169.9 v1.2 M462.5,169.9 v3.2 M476.7,169.9 v1.2 M484.9,169.9 v1.2 M490.8,169.9 v1.2 M495.4,169.9 v1.2 M499.1,169.9 v1.2 M502.2,169.9 v1.2 M504.9,169.9 v1.2 M507.4,169.9 v1.2 M509.5,169.9 v3.2" stroke="#1c1c1c" stroke-width="0.9" fill="none"/>
<text x="315.0" y="181.9" class="tk" textLength="8.0" lengthAdjust="spacingAndGlyphs">10</text>
<text x="324.9" y="178.2" class="tke">0</text>
<text x="361.9" y="181.9" class="tk" textLength="8.0" lengthAdjust="spacingAndGlyphs">10</text>
<text x="371.8" y="178.2" class="tke">1</text>
<text x="408.7" y="181.9" class="tk" textLength="8.0" lengthAdjust="spacingAndGlyphs">10</text>
<text x="418.6" y="178.2" class="tke">2</text>
<text x="455.6" y="181.9" class="tk" textLength="8.0" lengthAdjust="spacingAndGlyphs">10</text>
<text x="465.4" y="178.2" class="tke">3</text>
<text x="502.4" y="181.9" class="tk" textLength="8.0" lengthAdjust="spacingAndGlyphs">10</text>
<text x="512.3" y="178.2" class="tke">4</text>
<rect x="324.6" y="212.6" width="187.8" height="134.7" fill="#fff"/>
<path d="M391.5,302.9 L391.5,302.8 L391.4,301.2 L391.7,299.4 L391.6,298.3 L391.5,296.8 L391.6,295.5 L391.7,294.0 L391.6,292.6 L391.5,290.4 L391.5,289.4 L391.7,287.8 L391.8,285.7 L391.9,284.2 L391.6,283.5 L391.9,281.9 L391.8,279.8 L392.0,278.2 L392.0,277.3 L391.8,275.2 L391.9,274.2 L392.0,272.3 L391.8,271.4 L392.0,269.2 L392.0,268.0 L391.9,266.5 L391.8,264.5 L392.1,263.5 L392.0,262.0 L392.1,260.3 L392.2,258.8 L392.0,257.4 L392.0,255.2 L392.2,254.0 L392.3,252.0 L392.2,251.2 L392.0,248.9 L392.1,247.3 L391.9,246.3 L391.7,244.7 L391.7,243.0 L392.2,244.8 L392.4,245.7 L392.8,247.7 L393.1,248.9 L393.3,247.3 L393.4,246.4 L393.8,244.1 L394.1,242.7 L394.3,241.3 L394.5,239.9 L394.7,238.7 L394.8,237.0 L395.1,235.0 L395.5,233.2 L395.9,232.1 L396.5,230.3 L397.0,228.5 L397.4,227.0 L398.1,225.5 L398.5,224.3 L399.0,225.5 L399.3,227.5 L399.5,229.0 L400.0,230.9 L400.2,232.0 L400.4,234.0 L401.1,235.4 L401.2,237.2 L401.4,238.9 L401.9,240.4 L403.3,243.0 L403.5,241.7 L403.6,239.4 L403.6,238.4 L404.0,236.9 L403.9,235.6 L404.1,233.6 L404.4,231.8 L404.5,230.7 L404.5,229.5 L404.6,227.7 L405.0,226.4 L405.0,224.3 L405.1,223.2 L405.3,221.3 L405.5,220.1 L405.8,221.4 L406.2,223.9 L406.5,224.8 L406.8,227.1 L407.0,228.6 L407.4,229.6 L407.6,231.3 L407.7,233.0 L408.2,234.4 L408.3,236.2 L409.7,236.8 L410.9,237.9 L411.1,239.4 L411.6,241.1 L412.0,242.0 L412.1,243.8 L412.6,245.5 L413.9,246.6 L415.1,247.2 L415.5,245.7 L416.3,244.4 L416.8,243.0 L417.6,241.5 L418.5,239.6 L418.9,241.2 L419.1,242.3 L419.6,244.1 L420.0,246.0 L420.2,247.2 L420.7,248.8 L421.0,250.2 L421.6,251.9 L421.9,254.0 L422.4,256.2 L422.7,257.7 L423.0,259.4 L423.6,260.8 L424.1,262.3 L424.6,264.5 L425.3,265.8 L425.4,263.8 L425.7,262.8 L426.0,261.2 L426.2,259.4 L426.6,257.4 L427.2,256.2 L427.5,254.6 L427.8,252.6 L428.3,254.6 L428.4,256.3 L428.9,257.9 L429.0,259.0 L429.5,260.8 L429.9,263.3 L430.4,265.0 L432.4,264.2 L433.3,262.8 L433.8,261.3 L434.6,259.9 L435.0,261.6 L435.5,262.6 L435.8,264.7 L436.3,265.8 L436.7,267.8 L436.9,269.2 L437.2,271.1 L437.8,272.4 L438.0,274.3 L438.0,275.7 L438.6,278.0 L438.6,279.1 L438.8,281.0 L441.0,283.0 L443.6,284.0 L444.8,285.4 L445.9,286.2 L447.0,288.0 L448.7,289.1 L450.0,290.7 L451.2,291.9 L452.1,293.2 L453.0,294.5 L454.1,295.4 L455.3,297.0 L456.6,298.5 L458.3,299.4 L460.0,301.0 L461.5,301.2 L463.0,302.3 L465.1,303.0 L467.0,302.8 L467.0,302.9Z" fill="#000" stroke="#000" stroke-width="0.6" stroke-linejoin="round"/>
<path d="M326.8,325.3 L326.8,325.3 L329.5,324.2 L330.9,323.8 L332.7,323.1 L335.0,322.5 L337.0,322.0 L339.0,321.3 L341.2,320.6 L342.5,318.5 L343.7,316.4 L344.5,314.5 L345.4,313.0 L347.5,312.5 L349.7,312.1 L351.0,309.5 L352.2,307.0 L353.5,304.8 L354.7,302.8 L356.5,301.5 L358.3,300.0 L359.5,298.0 L360.2,296.2 L360.7,294.0 L361.0,292.9 L361.3,290.9 L361.9,289.5 L362.4,287.4 L362.9,285.4 L363.5,284.0 L364.8,283.1 L366.0,282.0 L366.4,280.2 L366.5,279.3 L367.2,277.8 L367.3,275.9 L367.8,274.5 L368.2,273.4 L368.5,271.1 L369.1,270.3 L369.6,268.8 L369.9,267.0 L371.5,266.5 L373.0,265.5 L374.6,263.1 L375.4,261.4 L375.9,259.6 L376.5,258.3 L377.1,256.3 L377.5,254.9 L377.6,253.1 L378.0,251.0 L378.4,249.2 L378.8,247.9 L379.3,245.8 L379.9,244.6 L380.5,242.8 L381.2,244.4 L382.3,246.0 L383.0,247.9 L384.3,249.7 L385.6,251.3 L386.1,252.7 L386.4,254.3 L386.9,256.8 L387.3,258.0 L388.2,259.8 L389.1,261.7 L389.8,263.1 L390.1,261.2 L390.6,259.5 L391.2,257.7 L391.5,256.3 L392.0,258.3 L392.6,259.8 L393.2,261.4 L393.4,263.5 L393.5,264.6 L393.6,266.6 L394.0,268.3 L394.0,269.8 L394.2,272.0 L394.4,273.3 L395.0,274.6 L395.9,276.3 L396.6,278.4 L397.9,279.9 L399.2,280.9 L399.5,282.0 L399.9,284.4 L400.3,285.9 L400.6,286.5 L400.8,288.5 L401.2,290.0 L401.6,291.9 L401.9,293.2 L402.2,294.8 L402.7,296.8 L402.9,298.5 L403.5,300.9 L404.2,302.7 L404.7,304.8 L405.4,306.9 L406.6,309.0 L407.5,310.3 L408.7,311.8 L409.7,313.7 L411.8,315.8 L413.9,317.9 L416.0,319.6 L418.1,321.3 L419.4,321.8 L421.0,322.2 L422.6,322.8 L424.1,323.0 L425.8,323.7 L427.5,323.9 L429.1,323.9 L430.8,324.7 L433.1,324.6 L435.0,325.4 L436.8,325.9 L438.2,325.6 L440.0,325.9 L441.9,326.3 L443.5,325.7 L445.3,325.8 L447.0,326.3 L447.0,325.3Z" fill="#dadada"/>
<path d="M326.8,325.3 L329.5,324.2 L330.9,323.8 L332.7,323.1 L335.0,322.5 L337.0,322.0 L339.0,321.3 L341.2,320.6 L342.5,318.5 L343.7,316.4 L344.5,314.5 L345.4,313.0 L347.5,312.5 L349.7,312.1 L351.0,309.5 L352.2,307.0 L353.5,304.8 L354.7,302.8 L356.5,301.5 L358.3,300.0 L359.5,298.0 L360.2,296.2 L360.7,294.0 L361.0,292.9 L361.3,290.9 L361.9,289.5 L362.4,287.4 L362.9,285.4 L363.5,284.0 L364.8,283.1 L366.0,282.0 L366.4,280.2 L366.5,279.3 L367.2,277.8 L367.3,275.9 L367.8,274.5 L368.2,273.4 L368.5,271.1 L369.1,270.3 L369.6,268.8 L369.9,267.0 L371.5,266.5 L373.0,265.5 L374.6,263.1 L375.4,261.4 L375.9,259.6 L376.5,258.3 L377.1,256.3 L377.5,254.9 L377.6,253.1 L378.0,251.0 L378.4,249.2 L378.8,247.9 L379.3,245.8 L379.9,244.6 L380.5,242.8 L381.2,244.4 L382.3,246.0 L383.0,247.9 L384.3,249.7 L385.6,251.3 L386.1,252.7 L386.4,254.3 L386.9,256.8 L387.3,258.0 L388.2,259.8 L389.1,261.7 L389.8,263.1 L390.1,261.2 L390.6,259.5 L391.2,257.7 L391.5,256.3 L392.0,258.3 L392.6,259.8 L393.2,261.4 L393.4,263.5 L393.5,264.6 L393.6,266.6 L394.0,268.3 L394.0,269.8 L394.2,272.0 L394.4,273.3 L395.0,274.6 L395.9,276.3 L396.6,278.4 L397.9,279.9 L399.2,280.9 L399.5,282.0 L399.9,284.4 L400.3,285.9 L400.6,286.5 L400.8,288.5 L401.2,290.0 L401.6,291.9 L401.9,293.2 L402.2,294.8 L402.7,296.8 L402.9,298.5 L403.5,300.9 L404.2,302.7 L404.7,304.8 L405.4,306.9 L406.6,309.0 L407.5,310.3 L408.7,311.8 L409.7,313.7 L411.8,315.8 L413.9,317.9 L416.0,319.6 L418.1,321.3 L419.4,321.8 L421.0,322.2 L422.6,322.8 L424.1,323.0 L425.8,323.7 L427.5,323.9 L429.1,323.9 L430.8,324.7 L433.1,324.6 L435.0,325.4 L436.8,325.9 L438.2,325.6 L440.0,325.9 L441.9,326.3 L443.5,325.7 L445.3,325.8 L447.0,326.3 L512.4,326.4" fill="none" stroke="#878787" stroke-width="2.5" stroke-linejoin="round"/>
<path d="M327.3,347.1 L327.3,337.0 L327.4,338.1 L327.3,339.7 L327.5,341.7 L327.4,343.0 L327.4,344.1 L327.4,346.0 L327.6,344.3 L328.9,342.7 L330.0,341.3 L331.4,339.9 L332.7,338.4 L333.7,337.2 L335.0,336.2 L337.0,334.2 L339.0,332.5 L341.2,330.8 L342.2,332.4 L342.9,333.3 L344.0,331.5 L345.4,330.0 L347.5,328.0 L348.6,326.9 L349.7,325.7 L350.6,324.3 L351.5,322.5 L352.3,320.8 L353.0,319.0 L353.5,317.1 L354.3,315.5 L355.1,313.4 L355.6,312.0 L356.1,310.9 L356.7,309.5 L357.3,307.8 L358.0,306.0 L358.6,305.1 L359.0,303.6 L360.2,301.0 L360.7,299.1 L361.5,296.9 L362.0,295.3 L362.2,293.9 L362.7,291.9 L363.2,290.5 L363.7,288.7 L363.8,287.7 L364.4,286.0 L365.6,285.2 L366.9,284.3 L367.3,282.5 L367.6,281.7 L367.9,279.4 L368.4,278.5 L368.6,276.7 L368.9,275.4 L369.5,274.0 L369.7,271.7 L370.3,270.2 L370.7,269.0 L371.2,270.4 L371.6,272.0 L372.0,274.1 L372.7,272.6 L373.9,270.9 L374.6,269.9 L375.1,268.9 L376.0,267.2 L376.6,265.8 L377.1,264.0 L379.2,265.7 L379.6,267.0 L380.0,268.6 L380.3,270.3 L380.5,271.6 L380.9,273.6 L381.2,275.2 L381.9,276.4 L382.2,278.4 L382.7,280.0 L383.0,281.9 L383.6,283.6 L383.9,285.2 L384.2,286.6 L384.6,288.1 L385.1,290.0 L385.5,291.8 L385.8,293.4 L386.0,294.9 L386.4,296.0 L386.6,297.2 L387.2,298.8 L387.3,300.2 L387.6,301.9 L387.8,303.0 L388.3,304.9 L388.7,306.3 L388.9,307.8 L389.4,309.6 L389.5,310.8 L390.0,311.9 L390.2,313.7 L390.3,315.1 L390.6,317.3 L391.0,318.8 L391.2,320.6 L391.4,322.1 L391.9,323.9 L392.3,325.6 L392.6,327.4 L393.2,329.4 L393.7,331.3 L393.8,332.8 L394.4,334.9 L395.1,336.6 L395.7,338.7 L396.4,340.4 L396.9,342.5 L397.8,343.4 L398.6,345.0 L400.3,346.6 L402.0,346.9 L402.0,347.1Z" fill="#fff"/>
<path d="M327.3,337.0 L327.4,338.1 L327.3,339.7 L327.5,341.7 L327.4,343.0 L327.4,344.1 L327.4,346.0 L327.6,344.3 L328.9,342.7 L330.0,341.3 L331.4,339.9 L332.7,338.4 L333.7,337.2 L335.0,336.2 L337.0,334.2 L339.0,332.5 L341.2,330.8 L342.2,332.4 L342.9,333.3 L344.0,331.5 L345.4,330.0 L347.5,328.0 L348.6,326.9 L349.7,325.7 L350.6,324.3 L351.5,322.5 L352.3,320.8 L353.0,319.0 L353.5,317.1 L354.3,315.5 L355.1,313.4 L355.6,312.0 L356.1,310.9 L356.7,309.5 L357.3,307.8 L358.0,306.0 L358.6,305.1 L359.0,303.6 L360.2,301.0 L360.7,299.1 L361.5,296.9 L362.0,295.3 L362.2,293.9 L362.7,291.9 L363.2,290.5 L363.7,288.7 L363.8,287.7 L364.4,286.0 L365.6,285.2 L366.9,284.3 L367.3,282.5 L367.6,281.7 L367.9,279.4 L368.4,278.5 L368.6,276.7 L368.9,275.4 L369.5,274.0 L369.7,271.7 L370.3,270.2 L370.7,269.0 L371.2,270.4 L371.6,272.0 L372.0,274.1 L372.7,272.6 L373.9,270.9 L374.6,269.9 L375.1,268.9 L376.0,267.2 L376.6,265.8 L377.1,264.0 L379.2,265.7 L379.6,267.0 L380.0,268.6 L380.3,270.3 L380.5,271.6 L380.9,273.6 L381.2,275.2 L381.9,276.4 L382.2,278.4 L382.7,280.0 L383.0,281.9 L383.6,283.6 L383.9,285.2 L384.2,286.6 L384.6,288.1 L385.1,290.0 L385.5,291.8 L385.8,293.4 L386.0,294.9 L386.4,296.0 L386.6,297.2 L387.2,298.8 L387.3,300.2 L387.6,301.9 L387.8,303.0 L388.3,304.9 L388.7,306.3 L388.9,307.8 L389.4,309.6 L389.5,310.8 L390.0,311.9 L390.2,313.7 L390.3,315.1 L390.6,317.3 L391.0,318.8 L391.2,320.6 L391.4,322.1 L391.9,323.9 L392.3,325.6 L392.6,327.4 L393.2,329.4 L393.7,331.3 L393.8,332.8 L394.4,334.9 L395.1,336.6 L395.7,338.7 L396.4,340.4 L396.9,342.5 L397.8,343.4 L398.6,345.0 L400.3,346.6 L402.0,346.9 L512.4,347.1" fill="none" stroke="#2b2b2b" stroke-width="2.3" stroke-linejoin="round"/>
<path d="M325,302.5 H356" stroke="#000" stroke-width="1.1"/><path d="M343.7,303.6 L344.5,300.9 L355,300.6 L356.4,303.7z" fill="#000"/><path d="M466,302.6 h2 M482.5,302.6 H490 M494,302.6 H507.5" stroke="#000" stroke-width="1.3"/>
<rect x="324.6" y="212.6" width="187.8" height="134.7" fill="none" stroke="#1c1c1c" stroke-width="1.2"/>
<path d="M324.6,347.3 v3.2 M338.7,347.3 v1.2 M347.0,347.3 v1.2 M352.9,347.3 v1.2 M357.4,347.3 v1.2 M361.1,347.3 v1.2 M364.3,347.3 v1.2 M367.0,347.3 v1.2 M369.4,347.3 v1.2 M371.6,347.3 v3.2 M385.7,347.3 v1.2 M394.0,347.3 v1.2 M399.8,347.3 v1.2 M404.4,347.3 v1.2 M408.1,347.3 v1.2 M411.2,347.3 v1.2 M414.0,347.3 v1.2 M416.4,347.3 v1.2 M418.5,347.3 v3.2 M432.6,347.3 v1.2 M440.9,347.3 v1.2 M446.8,347.3 v1.2 M451.3,347.3 v1.2 M455.0,347.3 v1.2 M458.2,347.3 v1.2 M460.9,347.3 v1.2 M463.3,347.3 v1.2 M465.4,347.3 v3.2 M479.6,347.3 v1.2 M487.9,347.3 v1.2 M493.7,347.3 v1.2 M498.3,347.3 v1.2 M502.0,347.3 v1.2 M505.1,347.3 v1.2 M507.9,347.3 v1.2 M510.3,347.3 v1.2 M512.4,347.3 v3.2" stroke="#1c1c1c" stroke-width="0.9" fill="none"/>
<text x="318.0" y="360.6" class="tk" textLength="8.0" lengthAdjust="spacingAndGlyphs">10</text>
<text x="327.9" y="356.9" class="tke">0</text>
<text x="364.9" y="360.6" class="tk" textLength="8.0" lengthAdjust="spacingAndGlyphs">10</text>
<text x="374.8" y="356.9" class="tke">1</text>
<text x="411.8" y="360.6" class="tk" textLength="8.0" lengthAdjust="spacingAndGlyphs">10</text>
<text x="421.7" y="356.9" class="tke">2</text>
<text x="458.7" y="360.6" class="tk" textLength="8.0" lengthAdjust="spacingAndGlyphs">10</text>
<text x="468.6" y="356.9" class="tke">3</text>
<text x="505.6" y="360.6" class="tk" textLength="8.0" lengthAdjust="spacingAndGlyphs">10</text>
<text x="515.5" y="356.9" class="tke">4</text>

<path d="M14.6,42 V125" stroke="#000" stroke-width="2.7"/>
<path d="M14.6,34.6 L19,42.8 L10.2,42.8 Z" fill="#000"/>
<path d="M14.5,240.4 V346" stroke="#000" stroke-width="2.6"/>
<path d="M97,376.7 H238.8" stroke="#000" stroke-width="2.5"/>
<path d="M328,375.7 H508" stroke="#000" stroke-width="2.5"/>
<path d="M515.2,375.7 L506.7,371.3 L506.7,380.1 Z" fill="#000"/>

<text x="60.0" y="21.5" class="hd" textLength="21.2" lengthAdjust="spacingAndGlyphs">A</text>
<text x="302.3" y="21.3" class="hd" textLength="20.3" lengthAdjust="spacingAndGlyphs">B</text>
<text x="146.5" y="20.5" class="ti" textLength="91.0" lengthAdjust="spacingAndGlyphs">Balb/c <tspan font-style="italic">wt</tspan></text>
<text x="356.6" y="18.7" class="ti" textLength="58.2" lengthAdjust="spacingAndGlyphs" style="font-size:22px">Rag 2</text>
<text x="415.6" y="12.7" class="sup" textLength="13.2" lengthAdjust="spacingAndGlyphs">-/-</text>
<text x="430.0" y="18.7" class="ti" textLength="10.8" lengthAdjust="spacingAndGlyphs" style="font-size:22px">γ</text>
<text x="441.3" y="24.7" class="sub" textLength="7.0" lengthAdjust="spacingAndGlyphs">c</text>
<text x="448.8" y="14.5" class="sup" textLength="13.2" lengthAdjust="spacingAndGlyphs">-/-</text>
<text x="31.8" y="101.5" class="rl" textLength="56.4" lengthAdjust="spacingAndGlyphs">myDC</text>
<text x="31.2" y="123.8" class="rl" textLength="42.2" lengthAdjust="spacingAndGlyphs">H-2k</text>
<text x="74.4" y="119.0" class="rls" textLength="7.2" lengthAdjust="spacingAndGlyphs">d</text>
<text x="38.3" y="271.5" class="rl" textLength="39.9" lengthAdjust="spacingAndGlyphs">pDC</text>
<text x="38.3" y="296.6" class="rl" textLength="40.6" lengthAdjust="spacingAndGlyphs">H-2k</text>
<text x="81.4" y="290.2" class="rls" textLength="7.0" lengthAdjust="spacingAndGlyphs" style="font-size:12.6px">d</text>
<text x="220.5" y="98.1" class="lb" textLength="33.6" lengthAdjust="spacingAndGlyphs">irrad,</text>
<text x="220.0" y="116.4" class="lb" textLength="42.5" lengthAdjust="spacingAndGlyphs">BM/Tc</text>
<text x="197.0" y="142.7" class="lbg" textLength="62.5" lengthAdjust="spacingAndGlyphs">untreated</text>
<text x="213.5" y="162.6" class="lb" textLength="47.6" lengthAdjust="spacingAndGlyphs">Isotype</text>
<text x="226.3" y="275.6" class="lb" textLength="33.6" lengthAdjust="spacingAndGlyphs">irrad,</text>
<text x="226.3" y="295.1" class="lb" textLength="42.6" lengthAdjust="spacingAndGlyphs">BM/Tc</text>
<text x="202.3" y="321.4" class="lbg" textLength="62.8" lengthAdjust="spacingAndGlyphs">untreated</text>
<text x="204.6" y="341.5" class="lb" textLength="48.0" lengthAdjust="spacingAndGlyphs">Isotype</text>
<text x="463.7" y="99.7" class="lb" textLength="32.6" lengthAdjust="spacingAndGlyphs">irrad,</text>
<text x="463.7" y="116.9" class="lb" textLength="42.0" lengthAdjust="spacingAndGlyphs">BM/Tc</text>
<text x="451.0" y="144.4" class="lbg" textLength="41.8" lengthAdjust="spacingAndGlyphs">BM/Tc</text>
<text x="441.0" y="165.0" class="lb" textLength="49.0" lengthAdjust="spacingAndGlyphs">Isotype</text>
<text x="460.6" y="277.0" class="lb" textLength="32.8" lengthAdjust="spacingAndGlyphs">irrad,</text>
<text x="460.2" y="295.7" class="lb" textLength="43.3" lengthAdjust="spacingAndGlyphs">BM/Tc</text>
<text x="448.2" y="322.6" class="lbg" textLength="42.6" lengthAdjust="spacingAndGlyphs">BM/Tc</text>
<text x="438.4" y="344.0" class="lb" textLength="48.6" lengthAdjust="spacingAndGlyphs">Isotype</text>
<text x="252.0" y="382.3" class="ax" textLength="70.5" lengthAdjust="spacingAndGlyphs">CD153</text>
<text transform="translate(19.2,234.9) rotate(-90)" class="ax" style="font-size:23.1px">Cell count</text>
</svg>
</body></html>
